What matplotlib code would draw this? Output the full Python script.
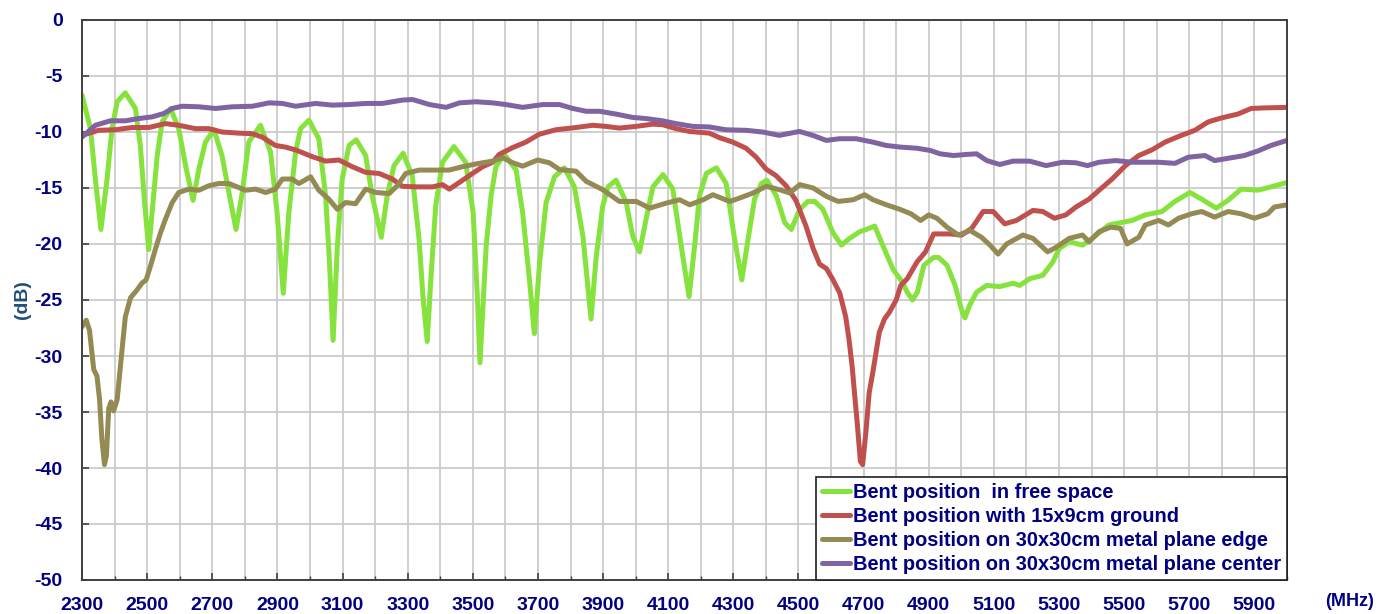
import matplotlib
matplotlib.use("Agg")
import matplotlib.pyplot as plt
from matplotlib.ticker import MultipleLocator

# ---------------- data ----------------
free_f = [2300, 2326, 2341, 2358, 2377, 2392, 2408, 2433, 2464, 2479, 2493, 2505, 2517, 2531, 2546,
          2572, 2597, 2618, 2641, 2659, 2679, 2705, 2730, 2751, 2773, 2792, 2812, 2848, 2879, 2899,
          2918, 2935, 2956, 2971, 2997, 3027, 3048, 3060, 3071, 3084, 3099, 3120, 3142, 3171, 3191,
          3219, 3237, 3258, 3286, 3314, 3335, 3347, 3360, 3371, 3386, 3407, 3442, 3478, 3501, 3514,
          3522, 3541, 3556, 3571, 3597, 3633, 3653, 3674, 3689, 3705, 3725, 3751, 3781, 3812, 3838,
          3863, 3879, 3899, 3915, 3940, 3971, 3991, 4012, 4032, 4053, 4084, 4114, 4140, 4164, 4181,
          4196, 4217, 4248, 4278, 4304, 4326, 4345, 4365, 4386, 4403, 4432, 4458, 4478, 4504, 4529,
          4550, 4575, 4606, 4632, 4657, 4688, 4708, 4734, 4760, 4791, 4814, 4834, 4850, 4865, 4885,
          4915, 4930, 4956, 4981, 5000, 5011, 5025, 5047, 5078, 5118, 5159, 5179, 5210, 5250, 5281,
          5301, 5331, 5372, 5402, 5453, 5524, 5565, 5616, 5656, 5702, 5738, 5783, 5819, 5859, 5910,
          5951, 6000]
free_db = [-6.7, -9.7, -14.2, -18.7, -14.2, -9.7, -7.3, -6.5, -7.9, -11.2, -16.6, -20.5, -16.6, -12.1, -9.1,
           -7.9, -9.7, -13.0, -16.1, -13.3, -10.9, -9.8, -12.1, -15.4, -18.7, -15.4, -10.9, -9.4, -11.8, -17.2,
           -24.4, -17.2, -11.8, -9.7, -8.95, -10.6, -15.7, -21.7, -28.6, -20.2, -14.2, -11.2, -10.7, -12.1, -15.7,
           -19.4, -15.7, -13.0, -11.9, -13.9, -19.6, -24.7, -28.7, -23.2, -16.6, -12.7, -11.3, -12.7, -17.2, -24.7,
           -30.6, -20.2, -15.7, -13.1, -12.0, -13.4, -17.2, -23.2, -28.0, -21.7, -16.3, -14.0, -13.2, -14.9, -19.3,
           -26.7, -21.1, -16.6, -14.9, -14.3, -16.3, -19.3, -20.7, -17.8, -14.9, -13.8, -15.1, -20.2, -24.7, -20.2,
           -15.7, -13.7, -13.2, -14.6, -19.6, -23.2, -19.6, -16.0, -14.6, -14.3, -15.7, -18.1, -18.7, -16.9, -16.2,
           -16.2, -16.9, -19.0, -20.1, -19.5, -18.9, -18.7, -18.4, -20.2, -22.3, -23.2, -24.3, -25.0, -24.3, -21.9,
           -21.2, -21.2, -21.9, -23.7, -25.8, -26.6, -25.5, -24.3, -23.7, -23.8, -23.5, -23.7, -23.1, -22.8, -21.6,
           -20.4, -19.8, -20.1, -19.5, -18.3, -17.9, -17.4, -17.1, -16.2, -15.4, -16.0, -16.8, -16.1, -15.1, -15.2,
           -14.9, -14.5]

ground_f = [2300, 2351, 2402, 2454, 2505, 2556, 2597, 2648, 2689, 2730, 2781, 2823, 2853, 2894, 2925,
            2956, 3007, 3048, 3089, 3130, 3171, 3212, 3253, 3284, 3325, 3376, 3407, 3428, 3459, 3489,
            3530, 3561, 3581, 3622, 3663, 3704, 3755, 3817, 3868, 3909, 3950, 4001, 4052, 4083, 4124,
            4165, 4226, 4257, 4298, 4339, 4370, 4400, 4431, 4462, 4492, 4523, 4545, 4565, 4586, 4606,
            4627, 4645, 4655, 4665, 4672, 4681, 4690, 4697, 4707, 4717, 4728, 4748, 4764, 4779, 4800,
            4814, 4834, 4864, 4890, 4915, 4966, 5001, 5032, 5067, 5098, 5133, 5169, 5220, 5250, 5286,
            5321, 5352, 5392, 5423, 5463, 5504, 5545, 5585, 5626, 5667, 5717, 5758, 5798, 5849, 5890,
            5930, 6000]
ground_db = [-10.3, -9.85, -9.8, -9.6, -9.6, -9.25, -9.4, -9.7, -9.7, -10.0, -10.1, -10.15, -10.45, -11.2, -11.35,
             -11.6, -12.2, -12.6, -12.5, -13.1, -13.6, -13.7, -14.2, -14.85, -14.9, -14.9, -14.7, -15.1, -14.5, -13.9,
             -13.1, -12.7, -12.0, -11.4, -10.9, -10.2, -9.8, -9.6, -9.4, -9.5, -9.65, -9.5, -9.3, -9.35, -9.7,
             -9.95, -10.1, -10.5, -10.9, -11.45, -12.25, -13.3, -13.9, -14.8, -16.1, -18.4, -20.4, -21.8, -22.2, -23.2,
             -24.4, -26.5, -28.5, -31.0, -33.3, -36.2, -39.4, -39.7, -36.8, -33.3, -31.5, -27.9, -26.7, -26.1, -25.0,
             -23.7, -23.1, -21.6, -20.7, -19.1, -19.1, -19.2, -18.6, -17.1, -17.1, -18.2, -17.9, -17.0, -17.1, -17.7,
             -17.4, -16.7, -16.0, -15.2, -14.2, -13.0, -12.1, -11.6, -10.9, -10.4, -9.85, -9.1, -8.75, -8.4, -7.9,
             -7.85, -7.8]

edge_f = [2300, 2313, 2323, 2336, 2346, 2354, 2361, 2369, 2375, 2382, 2389, 2397, 2408, 2418, 2433,
          2449, 2469, 2484, 2497, 2510, 2525, 2541, 2556, 2577, 2597, 2628, 2659, 2689, 2720, 2751,
          2802, 2833, 2864, 2894, 2915, 2945, 2966, 3002, 3027, 3058, 3084, 3109, 3140, 3171, 3202,
          3243, 3268, 3294, 3335, 3386, 3427, 3468, 3519, 3561, 3592, 3623, 3653, 3699, 3735, 3766,
          3817, 3848, 3899, 3950, 4002, 4043, 4094, 4135, 4166, 4207, 4237, 4289, 4319, 4360, 4401,
          4442, 4473, 4504, 4545, 4586, 4622, 4668, 4703, 4729, 4770, 4811, 4845, 4875, 4900, 4925,
          4956, 4991, 5027, 5062, 5088, 5113, 5139, 5189, 5220, 5265, 5291, 5331, 5372, 5392, 5423,
          5458, 5489, 5509, 5545, 5565, 5606, 5636, 5667, 5707, 5738, 5778, 5819, 5859, 5900, 5941,
          5961, 6000]
edge_db = [-27.4, -26.8, -27.7, -31.2, -31.8, -33.9, -37.4, -39.7, -38.9, -34.7, -34.1, -34.9, -33.9, -30.9, -26.5,
           -24.8, -24.1, -23.5, -23.2, -22.0, -20.5, -19.0, -17.8, -16.3, -15.4, -15.1, -15.2, -14.8, -14.6, -14.6,
           -15.2, -15.1, -15.4, -15.1, -14.2, -14.2, -14.6, -14.0, -15.2, -16.0, -16.9, -16.3, -16.4, -15.1, -15.4,
           -15.5, -14.8, -13.7, -13.4, -13.4, -13.4, -13.1, -12.8, -12.6, -12.3, -12.75, -13.05, -12.5, -12.75, -13.35,
           -13.5, -14.4, -15.15, -16.2, -16.2, -16.8, -16.35, -16.05, -16.5, -16.05, -15.6, -16.2, -15.9, -15.45, -14.85,
           -15.15, -15.45, -14.7, -15.0, -15.75, -16.2, -16.05, -15.6, -16.05, -16.5, -16.9, -17.3, -17.9, -17.4, -17.7,
           -18.5, -19.2, -18.8, -19.4, -20.1, -20.9, -20.0, -19.2, -19.5, -20.7, -20.3, -19.5, -19.2, -19.8, -18.9,
           -18.5, -18.6, -20.0, -19.4, -18.3, -17.9, -18.3, -17.7, -17.3, -17.1, -17.6, -17.1, -17.3, -17.7, -17.3,
           -16.7, -16.5]

center_f = [2300, 2341, 2387, 2433, 2474, 2515, 2551, 2577, 2607, 2659, 2710, 2761, 2823, 2874, 2915,
            2956, 3017, 3068, 3120, 3171, 3222, 3284, 3315, 3367, 3418, 3459, 3510, 3561, 3602, 3653,
            3715, 3766, 3807, 3848, 3889, 3940, 3991, 4032, 4083, 4124, 4175, 4226, 4277, 4339, 4390,
            4441, 4503, 4544, 4585, 4626, 4677, 4728, 4769, 4814, 4864, 4905, 4935, 4976, 5017, 5047,
            5078, 5118, 5159, 5210, 5260, 5311, 5352, 5387, 5423, 5473, 5524, 5565, 5606, 5656, 5697,
            5748, 5778, 5829, 5869, 5910, 5951, 6000]
center_db = [-10.45, -9.4, -9.0, -9.0, -8.8, -8.65, -8.35, -7.9, -7.7, -7.75, -7.9, -7.75, -7.7, -7.4, -7.45,
             -7.7, -7.45, -7.6, -7.55, -7.45, -7.45, -7.15, -7.1, -7.55, -7.8, -7.4, -7.3, -7.4, -7.55, -7.8,
             -7.55, -7.55, -7.9, -8.15, -8.15, -8.4, -8.7, -8.8, -9.0, -9.25, -9.5, -9.55, -9.8, -9.85, -10.0,
             -10.3, -9.95, -10.3, -10.75, -10.6, -10.6, -10.9, -11.2, -11.35, -11.45, -11.65, -11.95, -12.1, -12.0, -11.95,
             -12.55, -12.9, -12.6, -12.6, -13.0, -12.7, -12.75, -13.0, -12.7, -12.55, -12.7, -12.7, -12.7, -12.8, -12.25,
             -12.1, -12.55, -12.3, -12.1, -11.7, -11.2, -10.75]

labels = ["Bent position  in free space",
          "Bent position with 15x9cm ground",
          "Bent position on 30x30cm metal plane edge",
          "Bent position on 30x30cm metal plane center"]
colors = ["#86E23C", "#C0504D", "#948A54", "#8064A2"]

x_major = list(range(2300, 6001, 200))
y_ticks = list(range(-50, 1, 5))

# ---------------- plot ----------------
plt.rcParams['font.family'] = ['Liberation Sans', 'DejaVu Sans']
plt.rcParams['axes.unicode_minus'] = False
navy = "#000080"

fig = plt.figure(figsize=(13.87, 6.14), dpi=100)
ax = fig.add_axes([82 / 1387, 1 - 580 / 614, 1205 / 1387, 560 / 614])

series = [(free_f, free_db), (ground_f, ground_db), (edge_f, edge_db), (center_f, center_db)]
for (fx, fy), lab, col in zip(series, labels, colors):
    ax.plot(fx, fy, color=col, lw=3.6, label=lab, solid_joinstyle='round', solid_capstyle='round')

ax.set_xlim(2300, 6000)
ax.set_ylim(-50, 0)
ax.set_xticks(x_major)
ax.xaxis.set_minor_locator(MultipleLocator(100))
ax.set_yticks(y_ticks)
ax.grid(True, which='both', axis='x', color='#cccccc', lw=1.3)
ax.grid(True, which='major', axis='y', color='#cccccc', lw=1.3)
ax.set_axisbelow(True)

ax.tick_params(axis='both', which='major', direction='in', length=5, width=1.2, color='#404040',
               labelcolor=navy, labelsize=14)
ax.tick_params(axis='x', which='minor', direction='in', length=3, width=1.0, color='#404040')
ax.tick_params(axis='x', which='major', pad=12)
ax.tick_params(axis='y', which='major', pad=14)
for lbl in ax.get_xticklabels() + ax.get_yticklabels():
    lbl.set_fontweight('bold')

for s in ax.spines.values():
    s.set_color('#404040')
    s.set_linewidth(1.4)

fig.text(22 / 1387, 1 - 300 / 614, "(dB)", rotation=90, ha='center', va='center',
         fontsize=14, fontweight='bold', color='#1F4E79')
fig.text(1350 / 1387, 1 - 601 / 614, "(MHz)", ha='center', va='center',
         fontsize=13, fontweight='bold', color=navy)

leg = ax.legend(loc='lower right', bbox_to_anchor=(1.0, 0.0), borderaxespad=0.0,
                frameon=True, fancybox=False, edgecolor='#202020', framealpha=1,
                prop={'weight': 'bold', 'size': 14.4}, handlelength=1.4, handletextpad=0.12,
                labelspacing=0.25, borderpad=0.3)
leg.get_frame().set_linewidth(1.2)
for t in leg.get_texts():
    t.set_color(navy)

fig.savefig("out.png", dpi=100)
